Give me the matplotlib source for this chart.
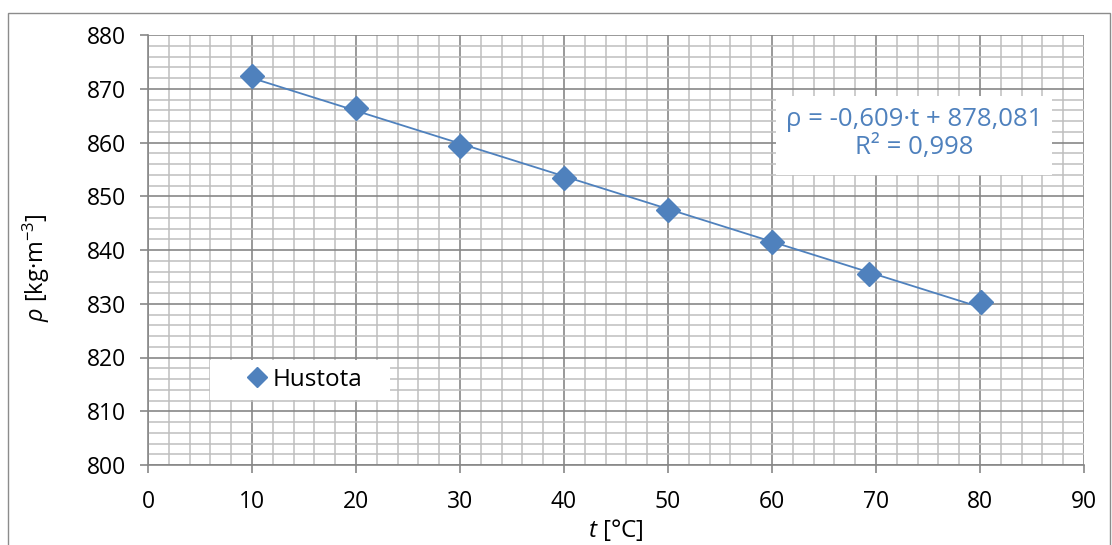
"""Hustota vs. teplota - scatter with linear trendline."""

import matplotlib.pyplot as plt
from matplotlib.patches import Rectangle
from matplotlib.ticker import MultipleLocator

plt.rcParams["font.family"] = ["Open Sans", "DejaVu Sans"]
plt.rcParams["mathtext.fontset"] = "custom"
plt.rcParams["mathtext.rm"] = "Open Sans"
plt.rcParams["mathtext.it"] = "Open Sans:italic"

# ── Data ───────────────────────────────────────────────────
temp = [10, 20, 30, 40, 50, 60, 69.3, 80.1]
density = [872.3, 866.4, 859.4, 853.4, 847.4, 841.4, 835.5, 830.4]

slope = -0.609
intercept = 878.081
r2_text = "R² = 0,998"
eq_text = "ρ = -0,609·t + 878,081"

BLUE = "#4F81BD"
MAJOR = "#878787"
MINOR = "#bebebe"

W, H = 1112, 545
fig = plt.figure(figsize=(W / 100, H / 100), dpi=100)
ax = fig.add_axes([148 / W, 1 - 465 / H, (1084 - 148) / W, (465 - 35) / H])


def px_to_axes(px, py):
    """Pixel position in the figure -> axes fraction."""
    return (px - 148) / 936, (465 - py) / 430


# outer chart frame
fig.patches.append(Rectangle((8 / W, -0.1), (1110 - 8) / W, 1.1 - 13 / H,
                             transform=fig.transFigure, fill=False,
                             edgecolor="#8c8c8c", linewidth=1.0))

ax.set_xlim(0, 90)
ax.set_ylim(800, 880)
ax.xaxis.set_major_locator(MultipleLocator(10))
ax.xaxis.set_minor_locator(MultipleLocator(2))
ax.yaxis.set_major_locator(MultipleLocator(10))
ax.yaxis.set_minor_locator(MultipleLocator(2))
ax.grid(which="minor", color=MINOR, linewidth=1.1, zorder=0)
ax.grid(which="major", color=MAJOR, linewidth=1.2, zorder=0)
ax.set_axisbelow(True)

for side in ("top", "right"):
    ax.spines[side].set_visible(False)
for side in ("left", "bottom"):
    ax.spines[side].set_color(MAJOR)
    ax.spines[side].set_linewidth(1.2)

ax.tick_params(which="major", direction="out", length=6, width=1.2,
               color=MAJOR, labelsize=16.5)
ax.tick_params(axis="y", pad=10)
ax.tick_params(axis="x", pad=12)
ax.tick_params(which="minor", length=0)

# trendline over the measured range
x0, x1 = min(temp), max(temp)
ax.plot([x0, x1], [slope * x0 + intercept, slope * x1 + intercept],
        color=BLUE, linewidth=1.3, zorder=2)
ax.plot(temp, density, linestyle="none", marker="D", markersize=12.5,
        color=BLUE, label="Hustota", zorder=3)

# trendline equation box
bx0, by0 = px_to_axes(776, 175)
bx1, by1 = px_to_axes(1052, 96)
ax.add_patch(Rectangle((bx0, by0), bx1 - bx0, by1 - by0, transform=ax.transAxes,
                       facecolor="white", edgecolor="none", zorder=4))
ax.text((bx0 + bx1) / 2, (by0 + by1) / 2 + 0.004, eq_text + "\n" + r2_text,
        transform=ax.transAxes, ha="center", va="center", fontsize=18.5,
        color=BLUE, linespacing=1.15, zorder=5)

# legend with wide white background
lx0, ly0 = px_to_axes(210, 400)
lx1, ly1 = px_to_axes(390, 360)
ax.add_patch(Rectangle((lx0, ly0), lx1 - lx0, ly1 - ly0, transform=ax.transAxes,
                       facecolor="white", edgecolor="none", zorder=4))
leg = ax.legend(loc="center", bbox_to_anchor=((lx0 + lx1) / 2 + 0.004, (ly0 + ly1) / 2),
                fontsize=17.5, frameon=False, handletextpad=0.15,
                borderpad=0.2, handlelength=1.0, markerscale=0.85,
                borderaxespad=0)
leg.set_zorder(6)

ax.set_xlabel(r"$\mathit{t}$ [°C]", fontsize=17.5)
ax.xaxis.set_label_coords(0.5, (465 - 517) / 430)
ax.set_ylabel(r"$\mathit{\rho}$ [kg·m$^{-3}$]", fontsize=17)
ax.yaxis.set_label_coords((52 - 148) / 936, (465 - 268) / 430)

fig.savefig("out.png", dpi=100, facecolor="white")
